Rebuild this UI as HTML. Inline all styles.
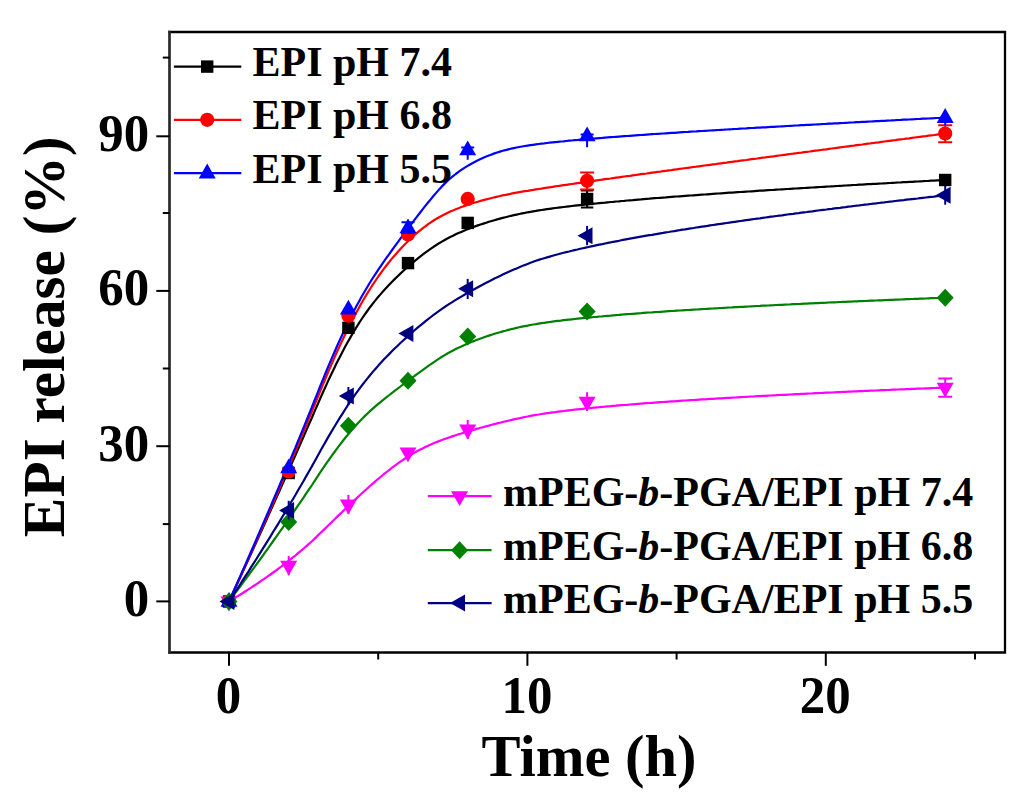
<!DOCTYPE html>
<html><head><meta charset="utf-8"><style>
html,body{margin:0;padding:0;background:#fff;}
body{width:1024px;height:808px;overflow:hidden;font-family:"Liberation Serif",serif;}
svg{display:block;}
</style></head><body>
<svg width="1024" height="808" viewBox="0 0 1024 808">
<path d="M168.3,32H1005V652.5H168.3" fill="none" stroke="#000" stroke-width="2.3"/>
<line x1="169.5" y1="30.85" x2="169.5" y2="653.65" stroke="#2a2a2a" stroke-width="2.7"/>
<line x1="156.3" y1="601.4" x2="169.5" y2="601.4" stroke="#000" stroke-width="2"/>
<text transform="translate(149.2,615.7) scale(0.97,1)" text-anchor="end" font-family="Liberation Serif" font-weight="bold" font-size="52.5">0</text>
<line x1="156.3" y1="446.2" x2="169.5" y2="446.2" stroke="#000" stroke-width="2"/>
<text transform="translate(149.2,460.6) scale(0.97,1)" text-anchor="end" font-family="Liberation Serif" font-weight="bold" font-size="52.5">30</text>
<line x1="156.3" y1="290.9" x2="169.5" y2="290.9" stroke="#000" stroke-width="2"/>
<text transform="translate(149.2,305.2) scale(0.97,1)" text-anchor="end" font-family="Liberation Serif" font-weight="bold" font-size="52.5">60</text>
<line x1="156.3" y1="136.3" x2="169.5" y2="136.3" stroke="#000" stroke-width="2"/>
<text transform="translate(149.2,150.6) scale(0.97,1)" text-anchor="end" font-family="Liberation Serif" font-weight="bold" font-size="52.5">90</text>
<line x1="162.8" y1="524.1" x2="169.5" y2="524.1" stroke="#000" stroke-width="2"/>
<line x1="162.8" y1="368.5" x2="169.5" y2="368.5" stroke="#000" stroke-width="2"/>
<line x1="162.8" y1="213.0" x2="169.5" y2="213.0" stroke="#000" stroke-width="2"/>
<line x1="162.8" y1="57.6" x2="169.5" y2="57.6" stroke="#000" stroke-width="2"/>
<line x1="229.0" y1="652.5" x2="229.0" y2="665.8" stroke="#000" stroke-width="2"/>
<text transform="translate(228.5,712.8) scale(0.97,1)" text-anchor="middle" font-family="Liberation Serif" font-weight="bold" font-size="52.5">0</text>
<line x1="527.4" y1="652.5" x2="527.4" y2="665.8" stroke="#000" stroke-width="2"/>
<text transform="translate(526.9,712.8) scale(0.97,1)" text-anchor="middle" font-family="Liberation Serif" font-weight="bold" font-size="52.5">10</text>
<line x1="825.8" y1="652.5" x2="825.8" y2="665.8" stroke="#000" stroke-width="2"/>
<text transform="translate(825.3,712.8) scale(0.97,1)" text-anchor="middle" font-family="Liberation Serif" font-weight="bold" font-size="52.5">20</text>
<line x1="378.2" y1="652.5" x2="378.2" y2="659.5" stroke="#000" stroke-width="2"/>
<line x1="676.6" y1="652.5" x2="676.6" y2="659.5" stroke="#000" stroke-width="2"/>
<line x1="975.0" y1="652.5" x2="975.0" y2="659.5" stroke="#000" stroke-width="2"/>
<text x="589" y="776.3" text-anchor="middle" font-family="Liberation Serif" font-weight="bold" font-size="58.5">Time (h)</text>
<text transform="translate(63.5,336.8) rotate(-90)" x="0" y="0" text-anchor="middle" font-family="Liberation Serif" font-weight="bold" font-size="59.3">EPI release (%)</text>
<path d="M229.0,601.5 L231.8,595.5 L234.5,589.6 L237.3,583.6 L240.1,577.6 L242.8,571.6 L245.6,565.6 L248.4,559.6 L251.1,553.5 L253.9,547.5 L256.7,541.4 L259.4,535.3 L262.2,529.3 L264.9,523.2 L267.7,517.0 L270.5,510.9 L273.2,504.8 L276.0,498.6 L278.8,492.5 L281.5,486.3 L284.3,480.1 L287.1,473.9 L289.8,467.7 L292.6,461.5 L295.4,455.2 L298.1,449.0 L300.9,442.7 L303.7,436.4 L306.4,430.1 L309.2,423.8 L312.0,417.5 L314.7,411.1 L317.5,404.8 L320.2,398.5 L323.0,392.2 L325.8,386.1 L328.5,380.1 L331.3,374.2 L334.1,368.5 L336.8,362.8 L339.6,357.4 L342.4,352.0 L345.1,346.8 L347.9,341.8 L350.7,336.9 L353.4,332.2 L356.2,327.7 L359.0,323.2 L361.7,319.0 L364.5,314.9 L367.3,311.0 L370.0,307.2 L372.8,303.6 L375.6,300.1 L378.3,296.8 L381.1,293.6 L383.8,290.5 L386.6,287.5 L389.4,284.5 L392.1,281.7 L394.9,278.9 L397.7,276.2 L400.4,273.6 L403.2,271.0 L406.0,268.5 L408.7,266.1 L411.5,263.7 L414.3,261.3 L417.0,259.1 L419.8,256.9 L422.6,254.7 L425.3,252.6 L428.1,250.6 L430.9,248.7 L433.6,246.8 L436.4,245.0 L439.1,243.2 L441.9,241.6 L444.7,240.0 L447.4,238.5 L450.2,237.0 L453.0,235.7 L455.7,234.3 L458.5,233.1 L461.3,231.9 L464.0,230.7 L466.8,229.6 L469.6,228.5 L472.3,227.4 L475.1,226.4 L477.9,225.4 L480.6,224.5 L483.4,223.6 L486.2,222.7 L488.9,221.8 L491.7,221.0 L494.4,220.2 L497.2,219.4 L500.0,218.6 L502.7,217.9 L505.5,217.2 L508.3,216.5 L511.0,215.8 L513.8,215.2 L516.6,214.6 L519.3,214.0 L522.1,213.4 L524.9,212.9 L527.6,212.3 L530.4,211.8 L533.2,211.3 L535.9,210.9 L538.7,210.4 L541.5,210.0 L544.2,209.6 L547.0,209.2 L549.8,208.8 L552.5,208.4 L555.3,208.0 L558.0,207.7 L560.8,207.3 L563.6,207.0 L566.3,206.7 L569.1,206.3 L571.9,206.0 L574.6,205.7 L577.4,205.4 L580.2,205.1 L582.9,204.8 L585.7,204.5 L588.5,204.2 L591.2,203.9 L594.0,203.6 L596.8,203.4 L599.5,203.1 L602.3,202.8 L605.1,202.6 L607.8,202.3 L610.6,202.0 L613.3,201.8 L616.1,201.5 L618.9,201.3 L621.6,201.0 L624.4,200.8 L627.2,200.5 L629.9,200.3 L632.7,200.1 L635.5,199.8 L638.2,199.6 L641.0,199.4 L643.8,199.1 L646.5,198.9 L649.3,198.7 L652.1,198.4 L654.8,198.2 L657.6,198.0 L660.4,197.8 L663.1,197.6 L665.9,197.4 L668.7,197.1 L671.4,196.9 L674.2,196.7 L676.9,196.5 L679.7,196.3 L682.5,196.1 L685.2,195.9 L688.0,195.7 L690.8,195.5 L693.5,195.3 L696.3,195.1 L699.1,194.9 L701.8,194.7 L704.6,194.5 L707.4,194.3 L710.1,194.1 L712.9,193.9 L715.7,193.7 L718.4,193.5 L721.2,193.3 L724.0,193.1 L726.7,192.9 L729.5,192.7 L732.2,192.6 L735.0,192.4 L737.8,192.2 L740.5,192.0 L743.3,191.8 L746.1,191.6 L748.8,191.5 L751.6,191.3 L754.4,191.1 L757.1,190.9 L759.9,190.7 L762.7,190.6 L765.4,190.4 L768.2,190.2 L771.0,190.0 L773.7,189.9 L776.5,189.7 L779.3,189.5 L782.0,189.3 L784.8,189.2 L787.5,189.0 L790.3,188.8 L793.1,188.6 L795.8,188.5 L798.6,188.3 L801.4,188.1 L804.1,188.0 L806.9,187.8 L809.7,187.6 L812.4,187.5 L815.2,187.3 L818.0,187.1 L820.7,187.0 L823.5,186.8 L826.3,186.6 L829.0,186.5 L831.8,186.3 L834.6,186.2 L837.3,186.0 L840.1,185.8 L842.9,185.7 L845.6,185.5 L848.4,185.3 L851.1,185.2 L853.9,185.0 L856.7,184.9 L859.4,184.7 L862.2,184.6 L865.0,184.4 L867.7,184.2 L870.5,184.1 L873.3,183.9 L876.0,183.8 L878.8,183.6 L881.6,183.5 L884.3,183.3 L887.1,183.2 L889.9,183.0 L892.6,182.8 L895.4,182.7 L898.2,182.5 L900.9,182.4 L903.7,182.2 L906.4,182.1 L909.2,181.9 L912.0,181.8 L914.7,181.6 L917.5,181.5 L920.3,181.3 L923.0,181.2 L925.8,181.0 L928.6,180.9 L931.3,180.7 L934.1,180.6 L936.9,180.4 L939.6,180.3 L942.4,180.1 L945.2,180.0" fill="none" stroke="#000" stroke-width="2.2" stroke-linejoin="round"/>
<path d="M229.0,601.5 L231.8,595.5 L234.5,589.4 L237.3,583.3 L240.1,577.3 L242.8,571.2 L245.6,565.0 L248.4,558.9 L251.1,552.7 L253.9,546.6 L256.7,540.4 L259.4,534.1 L262.2,527.9 L264.9,521.6 L267.7,515.4 L270.5,509.1 L273.2,502.7 L276.0,496.4 L278.8,490.0 L281.5,483.6 L284.3,477.2 L287.1,470.7 L289.8,464.2 L292.6,457.7 L295.4,451.2 L298.1,444.6 L300.9,438.1 L303.7,431.4 L306.4,424.8 L309.2,418.1 L312.0,411.4 L314.7,404.6 L317.5,397.8 L320.2,391.0 L323.0,384.3 L325.8,377.7 L328.5,371.1 L331.3,364.7 L334.1,358.4 L336.8,352.2 L339.6,346.2 L342.4,340.3 L345.1,334.5 L347.9,328.8 L350.7,323.3 L353.4,318.0 L356.2,312.8 L359.0,307.7 L361.7,302.8 L364.5,298.0 L367.3,293.4 L370.0,289.0 L372.8,284.7 L375.6,280.5 L378.3,276.5 L381.1,272.7 L383.8,268.9 L386.6,265.3 L389.4,261.8 L392.1,258.4 L394.9,255.2 L397.7,252.0 L400.4,249.0 L403.2,246.0 L406.0,243.2 L408.7,240.5 L411.5,237.8 L414.3,235.3 L417.0,232.9 L419.8,230.6 L422.6,228.4 L425.3,226.3 L428.1,224.2 L430.9,222.3 L433.6,220.5 L436.4,218.8 L439.1,217.2 L441.9,215.7 L444.7,214.3 L447.4,212.9 L450.2,211.6 L453.0,210.4 L455.7,209.3 L458.5,208.2 L461.3,207.1 L464.0,206.1 L466.8,205.1 L469.6,204.2 L472.3,203.3 L475.1,202.5 L477.9,201.7 L480.6,200.9 L483.4,200.1 L486.2,199.4 L488.9,198.7 L491.7,198.0 L494.4,197.3 L497.2,196.7 L500.0,196.0 L502.7,195.4 L505.5,194.9 L508.3,194.3 L511.0,193.7 L513.8,193.2 L516.6,192.7 L519.3,192.2 L522.1,191.7 L524.9,191.2 L527.6,190.8 L530.4,190.3 L533.2,189.9 L535.9,189.4 L538.7,189.0 L541.5,188.6 L544.2,188.1 L547.0,187.7 L549.8,187.3 L552.5,186.9 L555.3,186.4 L558.0,186.0 L560.8,185.6 L563.6,185.2 L566.3,184.8 L569.1,184.4 L571.9,184.0 L574.6,183.6 L577.4,183.2 L580.2,182.8 L582.9,182.4 L585.7,182.0 L588.5,181.6 L591.2,181.2 L594.0,180.8 L596.8,180.4 L599.5,180.0 L602.3,179.6 L605.1,179.2 L607.8,178.8 L610.6,178.5 L613.3,178.1 L616.1,177.7 L618.9,177.3 L621.6,176.9 L624.4,176.5 L627.2,176.1 L629.9,175.8 L632.7,175.4 L635.5,175.0 L638.2,174.6 L641.0,174.2 L643.8,173.8 L646.5,173.5 L649.3,173.1 L652.1,172.7 L654.8,172.3 L657.6,171.9 L660.4,171.6 L663.1,171.2 L665.9,170.8 L668.7,170.4 L671.4,170.1 L674.2,169.7 L676.9,169.3 L679.7,168.9 L682.5,168.5 L685.2,168.2 L688.0,167.8 L690.8,167.4 L693.5,167.0 L696.3,166.7 L699.1,166.3 L701.8,165.9 L704.6,165.5 L707.4,165.2 L710.1,164.8 L712.9,164.4 L715.7,164.1 L718.4,163.7 L721.2,163.3 L724.0,162.9 L726.7,162.6 L729.5,162.2 L732.2,161.8 L735.0,161.4 L737.8,161.1 L740.5,160.7 L743.3,160.3 L746.1,160.0 L748.8,159.6 L751.6,159.2 L754.4,158.8 L757.1,158.5 L759.9,158.1 L762.7,157.7 L765.4,157.4 L768.2,157.0 L771.0,156.6 L773.7,156.3 L776.5,155.9 L779.3,155.5 L782.0,155.2 L784.8,154.8 L787.5,154.4 L790.3,154.0 L793.1,153.7 L795.8,153.3 L798.6,152.9 L801.4,152.6 L804.1,152.2 L806.9,151.8 L809.7,151.5 L812.4,151.1 L815.2,150.7 L818.0,150.4 L820.7,150.0 L823.5,149.6 L826.3,149.3 L829.0,148.9 L831.8,148.5 L834.6,148.2 L837.3,147.8 L840.1,147.4 L842.9,147.0 L845.6,146.7 L848.4,146.3 L851.1,145.9 L853.9,145.6 L856.7,145.2 L859.4,144.8 L862.2,144.5 L865.0,144.1 L867.7,143.7 L870.5,143.4 L873.3,143.0 L876.0,142.6 L878.8,142.3 L881.6,141.9 L884.3,141.5 L887.1,141.2 L889.9,140.8 L892.6,140.4 L895.4,140.1 L898.2,139.7 L900.9,139.3 L903.7,139.0 L906.4,138.6 L909.2,138.3 L912.0,137.9 L914.7,137.5 L917.5,137.2 L920.3,136.8 L923.0,136.4 L925.8,136.1 L928.6,135.7 L931.3,135.3 L934.1,135.0 L936.9,134.6 L939.6,134.2 L942.4,133.9 L945.2,133.5" fill="none" stroke="#f00" stroke-width="2.2" stroke-linejoin="round"/>
<path d="M229.0,601.5 L231.8,595.3 L234.5,589.1 L237.3,582.9 L240.1,576.6 L242.8,570.4 L245.6,564.1 L248.4,557.8 L251.1,551.5 L253.9,545.1 L256.7,538.8 L259.4,532.4 L262.2,526.0 L264.9,519.6 L267.7,513.2 L270.5,506.7 L273.2,500.2 L276.0,493.7 L278.8,487.2 L281.5,480.7 L284.3,474.1 L287.1,467.5 L289.8,460.9 L292.6,454.2 L295.4,447.6 L298.1,440.8 L300.9,434.1 L303.7,427.4 L306.4,420.6 L309.2,413.7 L312.0,406.9 L314.7,400.0 L317.5,393.1 L320.2,386.1 L323.0,379.3 L325.8,372.5 L328.5,365.9 L331.3,359.4 L334.1,353.0 L336.8,346.7 L339.6,340.5 L342.4,334.5 L345.1,328.6 L347.9,322.9 L350.7,317.3 L353.4,311.9 L356.2,306.6 L359.0,301.5 L361.7,296.5 L364.5,291.7 L367.3,287.0 L370.0,282.5 L372.8,278.0 L375.6,273.8 L378.3,269.7 L381.1,265.6 L383.8,261.6 L386.6,257.7 L389.4,253.8 L392.1,250.0 L394.9,246.2 L397.7,242.4 L400.4,238.7 L403.2,235.0 L406.0,231.3 L408.7,227.6 L411.5,223.9 L414.3,220.2 L417.0,216.6 L419.8,213.0 L422.6,209.4 L425.3,205.9 L428.1,202.5 L430.9,199.1 L433.6,195.8 L436.4,192.6 L439.1,189.4 L441.9,186.4 L444.7,183.6 L447.4,181.0 L450.2,178.5 L453.0,176.2 L455.7,174.0 L458.5,171.9 L461.3,169.9 L464.0,168.1 L466.8,166.4 L469.6,164.7 L472.3,163.2 L475.1,161.7 L477.9,160.3 L480.6,159.0 L483.4,157.7 L486.2,156.6 L488.9,155.5 L491.7,154.4 L494.4,153.4 L497.2,152.5 L500.0,151.6 L502.7,150.8 L505.5,150.1 L508.3,149.4 L511.0,148.7 L513.8,148.1 L516.6,147.5 L519.3,147.0 L522.1,146.5 L524.9,146.0 L527.6,145.6 L530.4,145.2 L533.2,144.8 L535.9,144.4 L538.7,144.0 L541.5,143.7 L544.2,143.4 L547.0,143.0 L549.8,142.7 L552.5,142.4 L555.3,142.1 L558.0,141.8 L560.8,141.5 L563.6,141.3 L566.3,141.0 L569.1,140.7 L571.9,140.5 L574.6,140.2 L577.4,140.0 L580.2,139.7 L582.9,139.5 L585.7,139.2 L588.5,139.0 L591.2,138.8 L594.0,138.5 L596.8,138.3 L599.5,138.1 L602.3,137.9 L605.1,137.6 L607.8,137.4 L610.6,137.2 L613.3,137.0 L616.1,136.8 L618.9,136.6 L621.6,136.4 L624.4,136.2 L627.2,136.0 L629.9,135.8 L632.7,135.6 L635.5,135.4 L638.2,135.2 L641.0,135.0 L643.8,134.8 L646.5,134.6 L649.3,134.4 L652.1,134.2 L654.8,134.0 L657.6,133.8 L660.4,133.7 L663.1,133.5 L665.9,133.3 L668.7,133.1 L671.4,132.9 L674.2,132.8 L676.9,132.6 L679.7,132.4 L682.5,132.2 L685.2,132.0 L688.0,131.9 L690.8,131.7 L693.5,131.5 L696.3,131.4 L699.1,131.2 L701.8,131.0 L704.6,130.8 L707.4,130.7 L710.1,130.5 L712.9,130.3 L715.7,130.2 L718.4,130.0 L721.2,129.8 L724.0,129.7 L726.7,129.5 L729.5,129.3 L732.2,129.2 L735.0,129.0 L737.8,128.9 L740.5,128.7 L743.3,128.5 L746.1,128.4 L748.8,128.2 L751.6,128.0 L754.4,127.9 L757.1,127.7 L759.9,127.6 L762.7,127.4 L765.4,127.3 L768.2,127.1 L771.0,126.9 L773.7,126.8 L776.5,126.6 L779.3,126.5 L782.0,126.3 L784.8,126.2 L787.5,126.0 L790.3,125.8 L793.1,125.7 L795.8,125.5 L798.6,125.4 L801.4,125.2 L804.1,125.1 L806.9,124.9 L809.7,124.8 L812.4,124.6 L815.2,124.5 L818.0,124.3 L820.7,124.2 L823.5,124.0 L826.3,123.9 L829.0,123.7 L831.8,123.6 L834.6,123.4 L837.3,123.3 L840.1,123.1 L842.9,123.0 L845.6,122.8 L848.4,122.7 L851.1,122.5 L853.9,122.4 L856.7,122.2 L859.4,122.1 L862.2,121.9 L865.0,121.8 L867.7,121.6 L870.5,121.5 L873.3,121.3 L876.0,121.2 L878.8,121.1 L881.6,120.9 L884.3,120.8 L887.1,120.6 L889.9,120.5 L892.6,120.3 L895.4,120.2 L898.2,120.0 L900.9,119.9 L903.7,119.7 L906.4,119.6 L909.2,119.5 L912.0,119.3 L914.7,119.2 L917.5,119.0 L920.3,118.9 L923.0,118.7 L925.8,118.6 L928.6,118.5 L931.3,118.3 L934.1,118.2 L936.9,118.0 L939.6,117.9 L942.4,117.7 L945.2,117.6" fill="none" stroke="#00f" stroke-width="2.2" stroke-linejoin="round"/>
<path d="M229.0,601.5 L231.8,599.8 L234.5,598.1 L237.3,596.4 L240.1,594.7 L242.8,593.0 L245.6,591.2 L248.4,589.4 L251.1,587.6 L253.9,585.8 L256.7,584.0 L259.4,582.1 L262.2,580.2 L264.9,578.3 L267.7,576.4 L270.5,574.5 L273.2,572.5 L276.0,570.5 L278.8,568.4 L281.5,566.3 L284.3,564.2 L287.1,562.1 L289.8,559.9 L292.6,557.7 L295.4,555.5 L298.1,553.2 L300.9,550.9 L303.7,548.5 L306.4,546.1 L309.2,543.7 L312.0,541.2 L314.7,538.6 L317.5,535.9 L320.2,533.3 L323.0,530.6 L325.8,527.9 L328.5,525.2 L331.3,522.5 L334.1,519.8 L336.8,517.1 L339.6,514.4 L342.4,511.7 L345.1,509.1 L347.9,506.4 L350.7,503.8 L353.4,501.2 L356.2,498.6 L359.0,496.0 L361.7,493.5 L364.5,491.0 L367.3,488.5 L370.0,486.0 L372.8,483.6 L375.6,481.2 L378.3,478.8 L381.1,476.5 L383.8,474.2 L386.6,472.0 L389.4,469.8 L392.1,467.7 L394.9,465.6 L397.7,463.6 L400.4,461.7 L403.2,459.8 L406.0,458.0 L408.7,456.2 L411.5,454.5 L414.3,452.9 L417.0,451.3 L419.8,449.8 L422.6,448.4 L425.3,447.0 L428.1,445.7 L430.9,444.5 L433.6,443.3 L436.4,442.1 L439.1,441.1 L441.9,440.0 L444.7,439.0 L447.4,438.0 L450.2,437.1 L453.0,436.1 L455.7,435.2 L458.5,434.3 L461.3,433.5 L464.0,432.6 L466.8,431.8 L469.6,431.0 L472.3,430.2 L475.1,429.4 L477.9,428.6 L480.6,427.8 L483.4,427.1 L486.2,426.3 L488.9,425.6 L491.7,424.8 L494.4,424.1 L497.2,423.4 L500.0,422.7 L502.7,422.0 L505.5,421.4 L508.3,420.7 L511.0,420.1 L513.8,419.4 L516.6,418.8 L519.3,418.2 L522.1,417.6 L524.9,417.0 L527.6,416.5 L530.4,415.9 L533.2,415.4 L535.9,414.9 L538.7,414.5 L541.5,414.0 L544.2,413.6 L547.0,413.2 L549.8,412.8 L552.5,412.4 L555.3,412.1 L558.0,411.7 L560.8,411.3 L563.6,411.0 L566.3,410.7 L569.1,410.3 L571.9,410.0 L574.6,409.7 L577.4,409.4 L580.2,409.1 L582.9,408.8 L585.7,408.5 L588.5,408.3 L591.2,408.0 L594.0,407.7 L596.8,407.4 L599.5,407.2 L602.3,406.9 L605.1,406.7 L607.8,406.4 L610.6,406.2 L613.3,405.9 L616.1,405.7 L618.9,405.4 L621.6,405.2 L624.4,405.0 L627.2,404.8 L629.9,404.5 L632.7,404.3 L635.5,404.1 L638.2,403.9 L641.0,403.7 L643.8,403.4 L646.5,403.2 L649.3,403.0 L652.1,402.8 L654.8,402.6 L657.6,402.4 L660.4,402.2 L663.1,402.0 L665.9,401.8 L668.7,401.6 L671.4,401.4 L674.2,401.3 L676.9,401.1 L679.7,400.9 L682.5,400.7 L685.2,400.5 L688.0,400.3 L690.8,400.1 L693.5,400.0 L696.3,399.8 L699.1,399.6 L701.8,399.4 L704.6,399.3 L707.4,399.1 L710.1,398.9 L712.9,398.8 L715.7,398.6 L718.4,398.4 L721.2,398.3 L724.0,398.1 L726.7,397.9 L729.5,397.8 L732.2,397.6 L735.0,397.5 L737.8,397.3 L740.5,397.1 L743.3,397.0 L746.1,396.8 L748.8,396.7 L751.6,396.5 L754.4,396.4 L757.1,396.2 L759.9,396.1 L762.7,395.9 L765.4,395.8 L768.2,395.6 L771.0,395.5 L773.7,395.3 L776.5,395.2 L779.3,395.0 L782.0,394.9 L784.8,394.8 L787.5,394.6 L790.3,394.5 L793.1,394.3 L795.8,394.2 L798.6,394.1 L801.4,393.9 L804.1,393.8 L806.9,393.6 L809.7,393.5 L812.4,393.4 L815.2,393.2 L818.0,393.1 L820.7,393.0 L823.5,392.8 L826.3,392.7 L829.0,392.6 L831.8,392.5 L834.6,392.3 L837.3,392.2 L840.1,392.1 L842.9,391.9 L845.6,391.8 L848.4,391.7 L851.1,391.6 L853.9,391.4 L856.7,391.3 L859.4,391.2 L862.2,391.1 L865.0,390.9 L867.7,390.8 L870.5,390.7 L873.3,390.6 L876.0,390.5 L878.8,390.3 L881.6,390.2 L884.3,390.1 L887.1,390.0 L889.9,389.9 L892.6,389.7 L895.4,389.6 L898.2,389.5 L900.9,389.4 L903.7,389.3 L906.4,389.2 L909.2,389.1 L912.0,388.9 L914.7,388.8 L917.5,388.7 L920.3,388.6 L923.0,388.5 L925.8,388.4 L928.6,388.3 L931.3,388.1 L934.1,388.0 L936.9,387.9 L939.6,387.8 L942.4,387.7 L945.2,387.6" fill="none" stroke="#f0f" stroke-width="2.2" stroke-linejoin="round"/>
<path d="M229.0,601.5 L231.8,597.8 L234.5,594.1 L237.3,590.4 L240.1,586.7 L242.8,582.9 L245.6,579.2 L248.4,575.4 L251.1,571.7 L253.9,567.9 L256.7,564.1 L259.4,560.3 L262.2,556.5 L264.9,552.6 L267.7,548.8 L270.5,544.9 L273.2,541.0 L276.0,537.1 L278.8,533.2 L281.5,529.3 L284.3,525.4 L287.1,521.4 L289.8,517.4 L292.6,513.4 L295.4,509.4 L298.1,505.4 L300.9,501.3 L303.7,497.3 L306.4,493.2 L309.2,489.1 L312.0,485.0 L314.7,480.8 L317.5,476.6 L320.2,472.4 L323.0,468.3 L325.8,464.2 L328.5,460.3 L331.3,456.3 L334.1,452.5 L336.8,448.8 L339.6,445.1 L342.4,441.5 L345.1,438.0 L347.9,434.7 L350.7,431.4 L353.4,428.2 L356.2,425.1 L359.0,422.1 L361.7,419.2 L364.5,416.4 L367.3,413.7 L370.0,411.1 L372.8,408.6 L375.6,406.2 L378.3,403.9 L381.1,401.6 L383.8,399.4 L386.6,397.2 L389.4,395.0 L392.1,392.8 L394.9,390.7 L397.7,388.6 L400.4,386.5 L403.2,384.4 L406.0,382.4 L408.7,380.3 L411.5,378.2 L414.3,376.2 L417.0,374.1 L419.8,372.1 L422.6,370.1 L425.3,368.1 L428.1,366.1 L430.9,364.2 L433.6,362.3 L436.4,360.4 L439.1,358.6 L441.9,356.8 L444.7,355.1 L447.4,353.5 L450.2,352.0 L453.0,350.5 L455.7,349.1 L458.5,347.7 L461.3,346.4 L464.0,345.2 L466.8,343.9 L469.6,342.8 L472.3,341.6 L475.1,340.6 L477.9,339.5 L480.6,338.5 L483.4,337.5 L486.2,336.5 L488.9,335.6 L491.7,334.7 L494.4,333.8 L497.2,333.0 L500.0,332.2 L502.7,331.4 L505.5,330.7 L508.3,329.9 L511.0,329.2 L513.8,328.6 L516.6,327.9 L519.3,327.3 L522.1,326.7 L524.9,326.1 L527.6,325.6 L530.4,325.0 L533.2,324.5 L535.9,324.1 L538.7,323.6 L541.5,323.2 L544.2,322.8 L547.0,322.4 L549.8,322.0 L552.5,321.6 L555.3,321.2 L558.0,320.9 L560.8,320.6 L563.6,320.2 L566.3,319.9 L569.1,319.6 L571.9,319.3 L574.6,319.0 L577.4,318.7 L580.2,318.4 L582.9,318.1 L585.7,317.8 L588.5,317.6 L591.2,317.3 L594.0,317.0 L596.8,316.8 L599.5,316.5 L602.3,316.3 L605.1,316.0 L607.8,315.8 L610.6,315.6 L613.3,315.3 L616.1,315.1 L618.9,314.9 L621.6,314.6 L624.4,314.4 L627.2,314.2 L629.9,314.0 L632.7,313.8 L635.5,313.6 L638.2,313.4 L641.0,313.2 L643.8,312.9 L646.5,312.7 L649.3,312.5 L652.1,312.4 L654.8,312.2 L657.6,312.0 L660.4,311.8 L663.1,311.6 L665.9,311.4 L668.7,311.2 L671.4,311.0 L674.2,310.9 L676.9,310.7 L679.7,310.5 L682.5,310.3 L685.2,310.1 L688.0,310.0 L690.8,309.8 L693.5,309.6 L696.3,309.5 L699.1,309.3 L701.8,309.1 L704.6,309.0 L707.4,308.8 L710.1,308.6 L712.9,308.5 L715.7,308.3 L718.4,308.2 L721.2,308.0 L724.0,307.8 L726.7,307.7 L729.5,307.5 L732.2,307.4 L735.0,307.2 L737.8,307.1 L740.5,306.9 L743.3,306.8 L746.1,306.6 L748.8,306.5 L751.6,306.3 L754.4,306.2 L757.1,306.0 L759.9,305.9 L762.7,305.7 L765.4,305.6 L768.2,305.5 L771.0,305.3 L773.7,305.2 L776.5,305.0 L779.3,304.9 L782.0,304.8 L784.8,304.6 L787.5,304.5 L790.3,304.4 L793.1,304.2 L795.8,304.1 L798.6,304.0 L801.4,303.8 L804.1,303.7 L806.9,303.6 L809.7,303.4 L812.4,303.3 L815.2,303.2 L818.0,303.1 L820.7,302.9 L823.5,302.8 L826.3,302.7 L829.0,302.5 L831.8,302.4 L834.6,302.3 L837.3,302.2 L840.1,302.0 L842.9,301.9 L845.6,301.8 L848.4,301.7 L851.1,301.6 L853.9,301.4 L856.7,301.3 L859.4,301.2 L862.2,301.1 L865.0,301.0 L867.7,300.8 L870.5,300.7 L873.3,300.6 L876.0,300.5 L878.8,300.4 L881.6,300.3 L884.3,300.1 L887.1,300.0 L889.9,299.9 L892.6,299.8 L895.4,299.7 L898.2,299.6 L900.9,299.5 L903.7,299.3 L906.4,299.2 L909.2,299.1 L912.0,299.0 L914.7,298.9 L917.5,298.8 L920.3,298.7 L923.0,298.6 L925.8,298.5 L928.6,298.3 L931.3,298.2 L934.1,298.1 L936.9,298.0 L939.6,297.9 L942.4,297.8 L945.2,297.7" fill="none" stroke="#008000" stroke-width="2.2" stroke-linejoin="round"/>
<path d="M229.0,601.5 L231.8,597.3 L234.5,593.0 L237.3,588.8 L240.1,584.5 L242.8,580.2 L245.6,575.9 L248.4,571.6 L251.1,567.2 L253.9,562.9 L256.7,558.5 L259.4,554.1 L262.2,549.7 L264.9,545.3 L267.7,540.8 L270.5,536.3 L273.2,531.8 L276.0,527.3 L278.8,522.8 L281.5,518.2 L284.3,513.6 L287.1,509.0 L289.8,504.3 L292.6,499.7 L295.4,495.0 L298.1,490.2 L300.9,485.5 L303.7,480.7 L306.4,475.9 L309.2,471.0 L312.0,466.1 L314.7,461.2 L317.5,456.2 L320.2,451.2 L323.0,446.3 L325.8,441.4 L328.5,436.6 L331.3,431.9 L334.1,427.2 L336.8,422.7 L339.6,418.2 L342.4,413.8 L345.1,409.5 L347.9,405.2 L350.7,401.1 L353.4,397.1 L356.2,393.2 L359.0,389.4 L361.7,385.7 L364.5,382.1 L367.3,378.6 L370.0,375.2 L372.8,371.9 L375.6,368.7 L378.3,365.6 L381.1,362.6 L383.8,359.6 L386.6,356.7 L389.4,353.9 L392.1,351.1 L394.9,348.3 L397.7,345.7 L400.4,343.0 L403.2,340.5 L406.0,337.9 L408.7,335.4 L411.5,333.0 L414.3,330.5 L417.0,328.2 L419.8,325.9 L422.6,323.6 L425.3,321.3 L428.1,319.2 L430.9,317.0 L433.6,314.9 L436.4,312.9 L439.1,310.9 L441.9,308.9 L444.7,307.0 L447.4,305.2 L450.2,303.4 L453.0,301.6 L455.7,299.9 L458.5,298.2 L461.3,296.6 L464.0,295.0 L466.8,293.4 L469.6,291.8 L472.3,290.2 L475.1,288.7 L477.9,287.2 L480.6,285.7 L483.4,284.3 L486.2,282.8 L488.9,281.4 L491.7,280.0 L494.4,278.6 L497.2,277.3 L500.0,275.9 L502.7,274.6 L505.5,273.3 L508.3,272.0 L511.0,270.8 L513.8,269.6 L516.6,268.4 L519.3,267.2 L522.1,266.1 L524.9,265.0 L527.6,263.9 L530.4,262.8 L533.2,261.8 L535.9,260.8 L538.7,259.9 L541.5,259.0 L544.2,258.2 L547.0,257.4 L549.8,256.6 L552.5,255.8 L555.3,255.0 L558.0,254.3 L560.8,253.5 L563.6,252.8 L566.3,252.1 L569.1,251.5 L571.9,250.8 L574.6,250.1 L577.4,249.5 L580.2,248.8 L582.9,248.2 L585.7,247.6 L588.5,247.0 L591.2,246.4 L594.0,245.8 L596.8,245.2 L599.5,244.6 L602.3,244.1 L605.1,243.5 L607.8,242.9 L610.6,242.4 L613.3,241.8 L616.1,241.3 L618.9,240.8 L621.6,240.2 L624.4,239.7 L627.2,239.2 L629.9,238.7 L632.7,238.2 L635.5,237.7 L638.2,237.2 L641.0,236.7 L643.8,236.2 L646.5,235.7 L649.3,235.2 L652.1,234.8 L654.8,234.3 L657.6,233.8 L660.4,233.3 L663.1,232.9 L665.9,232.4 L668.7,232.0 L671.4,231.5 L674.2,231.1 L676.9,230.6 L679.7,230.2 L682.5,229.7 L685.2,229.3 L688.0,228.8 L690.8,228.4 L693.5,228.0 L696.3,227.5 L699.1,227.1 L701.8,226.7 L704.6,226.3 L707.4,225.9 L710.1,225.4 L712.9,225.0 L715.7,224.6 L718.4,224.2 L721.2,223.8 L724.0,223.4 L726.7,223.0 L729.5,222.6 L732.2,222.2 L735.0,221.8 L737.8,221.4 L740.5,221.0 L743.3,220.6 L746.1,220.2 L748.8,219.8 L751.6,219.4 L754.4,219.0 L757.1,218.6 L759.9,218.3 L762.7,217.9 L765.4,217.5 L768.2,217.1 L771.0,216.7 L773.7,216.4 L776.5,216.0 L779.3,215.6 L782.0,215.3 L784.8,214.9 L787.5,214.5 L790.3,214.1 L793.1,213.8 L795.8,213.4 L798.6,213.1 L801.4,212.7 L804.1,212.3 L806.9,212.0 L809.7,211.6 L812.4,211.3 L815.2,210.9 L818.0,210.5 L820.7,210.2 L823.5,209.8 L826.3,209.5 L829.0,209.1 L831.8,208.8 L834.6,208.4 L837.3,208.1 L840.1,207.8 L842.9,207.4 L845.6,207.1 L848.4,206.7 L851.1,206.4 L853.9,206.0 L856.7,205.7 L859.4,205.4 L862.2,205.0 L865.0,204.7 L867.7,204.4 L870.5,204.0 L873.3,203.7 L876.0,203.4 L878.8,203.0 L881.6,202.7 L884.3,202.4 L887.1,202.0 L889.9,201.7 L892.6,201.4 L895.4,201.0 L898.2,200.7 L900.9,200.4 L903.7,200.1 L906.4,199.7 L909.2,199.4 L912.0,199.1 L914.7,198.8 L917.5,198.5 L920.3,198.1 L923.0,197.8 L925.8,197.5 L928.6,197.2 L931.3,196.9 L934.1,196.6 L936.9,196.2 L939.6,195.9 L942.4,195.6 L945.2,195.3" fill="none" stroke="#000080" stroke-width="2.2" stroke-linejoin="round"/>
<rect x="222.8" y="595.3" width="12.4" height="12.4" fill="#000"/>
<rect x="282.5" y="466.8" width="12.4" height="12.4" fill="#000"/>
<rect x="342.2" y="321.6" width="12.4" height="12.4" fill="#000"/>
<rect x="401.8" y="256.9" width="12.4" height="12.4" fill="#000"/>
<rect x="461.5" y="216.7" width="12.4" height="12.4" fill="#000"/>
<rect x="580.9" y="192.8" width="12.4" height="12.4" fill="#000"/>
<rect x="939.0" y="173.8" width="12.4" height="12.4" fill="#000"/>
<circle cx="229.0" cy="601.5" r="7.1" fill="#f00"/>
<circle cx="288.7" cy="471.4" r="7.1" fill="#f00"/>
<circle cx="348.4" cy="315.7" r="7.1" fill="#f00"/>
<circle cx="408.0" cy="234.5" r="7.1" fill="#f00"/>
<circle cx="467.7" cy="198.9" r="7.1" fill="#f00"/>
<circle cx="587.1" cy="180.8" r="7.1" fill="#f00"/>
<circle cx="945.2" cy="133.5" r="7.1" fill="#f00"/>
<path d="M229.0,592.0L237.5,606.8L220.5,606.8Z" fill="#00f"/>
<path d="M288.7,458.5L297.2,473.3L280.2,473.3Z" fill="#00f"/>
<path d="M348.4,299.8L356.9,314.6L339.9,314.6Z" fill="#00f"/>
<path d="M408.0,218.5L416.5,233.3L399.5,233.3Z" fill="#00f"/>
<path d="M467.7,140.5L476.2,155.3L459.2,155.3Z" fill="#00f"/>
<path d="M587.1,126.5L595.6,141.3L578.6,141.3Z" fill="#00f"/>
<path d="M945.2,108.1L953.7,122.9L936.7,122.9Z" fill="#00f"/>
<path d="M220.5,596.6L237.5,596.6L229.0,611.4Z" fill="#f0f"/>
<path d="M280.2,560.7L297.2,560.7L288.7,575.5Z" fill="#f0f"/>
<path d="M339.9,499.6L356.9,499.6L348.4,514.4Z" fill="#f0f"/>
<path d="M399.5,447.5L416.5,447.5L408.0,462.3Z" fill="#f0f"/>
<path d="M459.2,424.6L476.2,424.6L467.7,439.4Z" fill="#f0f"/>
<path d="M578.6,396.8L595.6,396.8L587.1,411.6Z" fill="#f0f"/>
<path d="M936.7,382.7L953.7,382.7L945.2,397.5Z" fill="#f0f"/>
<path d="M229.0,592.5L237.5,601.5L229.0,610.5L220.5,601.5Z" fill="#008000"/>
<path d="M288.7,513.0L297.2,522.0L288.7,531.0L280.2,522.0Z" fill="#008000"/>
<path d="M348.4,416.7L356.9,425.7L348.4,434.7L339.9,425.7Z" fill="#008000"/>
<path d="M408.0,371.7L416.5,380.7L408.0,389.7L399.5,380.7Z" fill="#008000"/>
<path d="M467.7,327.5L476.2,336.5L467.7,345.5L459.2,336.5Z" fill="#008000"/>
<path d="M587.1,302.5L595.6,311.5L587.1,320.5L578.6,311.5Z" fill="#008000"/>
<path d="M945.2,288.7L953.7,297.7L945.2,306.7L936.7,297.7Z" fill="#008000"/>
<path d="M219.4,601.5L234.4,593.0L234.4,610.0Z" fill="#000080"/>
<path d="M279.1,510.4L294.1,501.9L294.1,518.9Z" fill="#000080"/>
<path d="M338.8,396.1L353.8,387.6L353.8,404.6Z" fill="#000080"/>
<path d="M398.4,333.4L413.4,324.9L413.4,341.9Z" fill="#000080"/>
<path d="M458.1,288.8L473.1,280.3L473.1,297.3Z" fill="#000080"/>
<path d="M577.5,235.8L592.5,227.3L592.5,244.3Z" fill="#000080"/>
<path d="M935.6,195.3L950.6,186.8L950.6,203.8Z" fill="#000080"/>
<path d="M587.1,190.6V207.4M580.9,190.6H593.3M580.9,207.4H593.3" stroke="#000" stroke-width="2" fill="none"/>
<path d="M587.1,172.5V189.5M580.1,172.5H594.1M580.1,189.5H594.1" stroke="#f00" stroke-width="2" fill="none"/>
<path d="M945.2,125.2V142.2M938.2,125.2H952.2M938.2,142.2H952.2" stroke="#f00" stroke-width="2" fill="none"/>
<path d="M408.0,222.3V232.9M401.5,222.3H414.5M401.5,232.9H414.5" stroke="#00f" stroke-width="2" fill="none"/>
<path d="M467.7,147.4V159.8M461.2,147.4H474.2" stroke="#00f" stroke-width="2" fill="none"/>
<path d="M587.1,134.4V147.2M580.6,134.4H593.6" stroke="#00f" stroke-width="2" fill="none"/>
<path d="M945.2,117.6V125.2" stroke="#00f" stroke-width="2" fill="none"/>
<path d="M288.7,555.9V575.3" stroke="#f0f" stroke-width="2" fill="none"/>
<path d="M348.4,494.9V514.0" stroke="#f0f" stroke-width="2" fill="none"/>
<path d="M467.7,420.0V439.0" stroke="#f0f" stroke-width="2" fill="none"/>
<path d="M587.1,392.2V411.0" stroke="#f0f" stroke-width="2" fill="none"/>
<path d="M945.2,378.5V396.7M938.2,378.5H952.2M938.2,396.7H952.2" stroke="#f0f" stroke-width="2" fill="none"/>
<path d="M288.7,500.8V519.5" stroke="#000080" stroke-width="2" fill="none"/>
<path d="M348.4,387.0V405.0" stroke="#000080" stroke-width="2" fill="none"/>
<path d="M467.7,278.9V299.0" stroke="#000080" stroke-width="2" fill="none"/>
<path d="M587.1,225.9V245.2" stroke="#000080" stroke-width="2" fill="none"/>
<path d="M945.2,186.0V204.7" stroke="#000080" stroke-width="2" fill="none"/>
<line x1="173.9" y1="66.6" x2="241.3" y2="66.6" stroke="#000" stroke-width="2.2"/>
<rect x="201.0" y="60.4" width="12.4" height="12.4" fill="#000"/>
<text x="252.5" y="76.3" font-family="Liberation Serif" font-weight="bold" font-size="42">EPI pH 7.4</text>
<line x1="173.9" y1="119.8" x2="241.3" y2="119.8" stroke="#f00" stroke-width="2.2"/>
<circle cx="207.2" cy="119.8" r="7.1" fill="#f00"/>
<text x="252.5" y="129.4" font-family="Liberation Serif" font-weight="bold" font-size="42">EPI pH 6.8</text>
<line x1="173.9" y1="173.1" x2="241.3" y2="173.1" stroke="#00f" stroke-width="2.2"/>
<path d="M207.2,163.6L215.7,178.4L198.7,178.4Z" fill="#00f"/>
<text x="252.5" y="182.5" font-family="Liberation Serif" font-weight="bold" font-size="42">EPI pH 5.5</text>
<line x1="427.8" y1="496.2" x2="491.6" y2="496.2" stroke="#f0f" stroke-width="2.3"/>
<path d="M451.1,491.3L468.1,491.3L459.6,506.1Z" fill="#f0f"/>
<text x="503" y="506.3" font-family="Liberation Serif" font-weight="bold" font-size="42">mPEG-<tspan font-style="italic">b</tspan>-PGA/EPI pH 7.4</text>
<line x1="427.8" y1="550.2" x2="491.6" y2="550.2" stroke="#008000" stroke-width="2.3"/>
<path d="M459.6,541.2L468.1,550.2L459.6,559.2L451.1,550.2Z" fill="#008000"/>
<text x="503" y="559.6" font-family="Liberation Serif" font-weight="bold" font-size="42">mPEG-<tspan font-style="italic">b</tspan>-PGA/EPI pH 6.8</text>
<line x1="427.8" y1="603.1" x2="491.6" y2="603.1" stroke="#000080" stroke-width="2.3"/>
<path d="M450.0,603.1L465.0,594.6L465.0,611.6Z" fill="#000080"/>
<text x="503" y="613" font-family="Liberation Serif" font-weight="bold" font-size="42">mPEG-<tspan font-style="italic">b</tspan>-PGA/EPI pH 5.5</text>
</svg>
</body></html>
